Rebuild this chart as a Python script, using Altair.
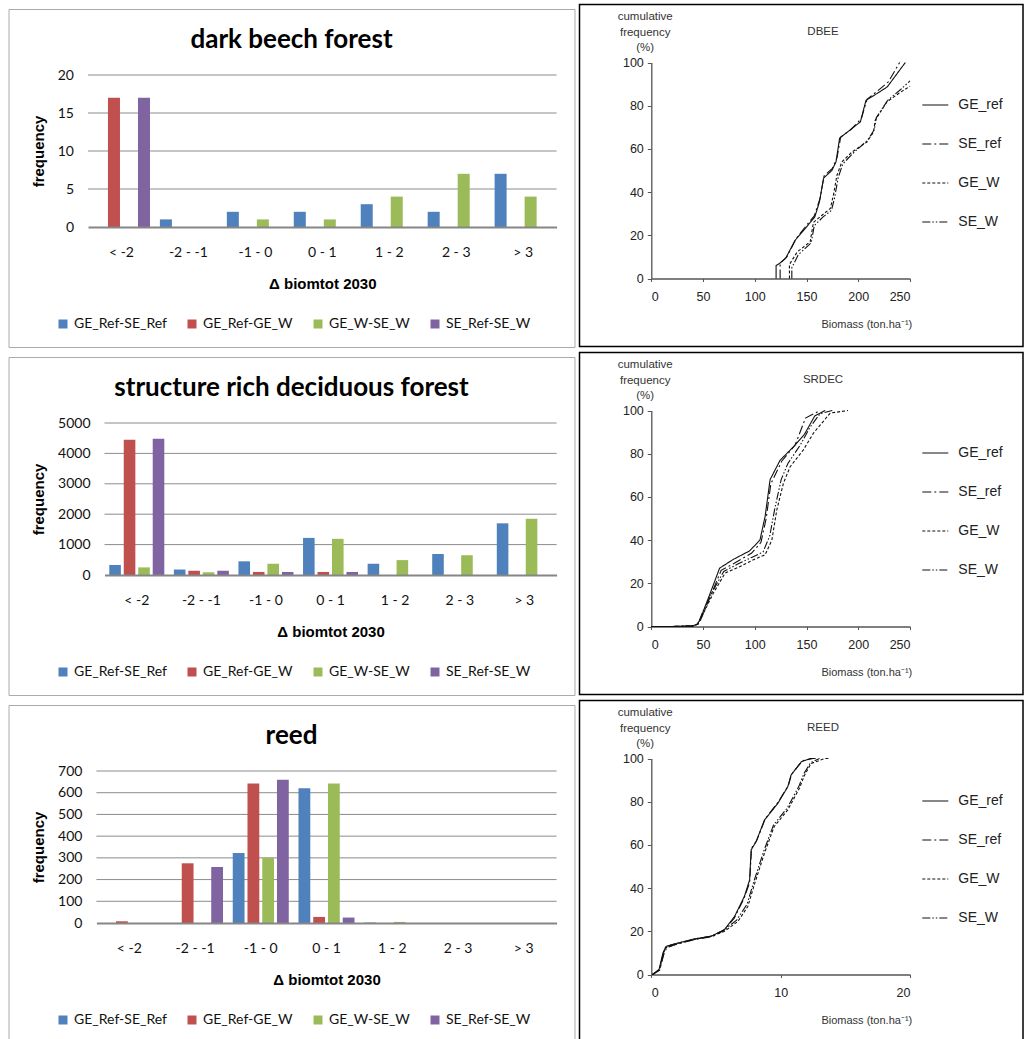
import altair as alt
import pandas as pd

# Classes of the change in total biomass by 2030
BINS = ["< -2", "-2 - -1", "-1 - 0", "0 - 1", "1 - 2", "2 - 3", "> 3"]
DIFFS = ["GE_Ref-SE_Ref", "GE_Ref-GE_W", "GE_W-SE_W", "SE_Ref-SE_W"]
DIFF_COLORS = ["#4F81BD", "#C0504D", "#9BBB59", "#8064A2"]

# Frequencies per class, one list per difference
dbee_geref_seref = [0, 1, 2, 2, 3, 2, 7]
dbee_geref_gew = [17, 0, 0, 0, 0, 0, 0]
dbee_gew_sew = [0, 0, 1, 1, 4, 7, 4]
dbee_seref_sew = [17, 0, 0, 0, 0, 0, 0]

srdec_geref_seref = [330, 180, 450, 1220, 370, 690, 1700]
srdec_geref_gew = [4450, 140, 100, 100, 0, 0, 0]
srdec_gew_sew = [250, 90, 370, 1190, 490, 650, 1850]
srdec_seref_sew = [4480, 140, 100, 100, 0, 0, 0]

reed_geref_seref = [0, 0, 322, 620, 2, 0, 0]
reed_geref_gew = [8, 275, 642, 28, 0, 0, 0]
reed_gew_sew = [0, 0, 300, 642, 5, 0, 0]
reed_seref_sew = [0, 258, 660, 25, 0, 0, 0]

# Cumulative frequency curves (biomass, %) per run
RUNS = ["GE_ref", "SE_ref", "GE_W", "SE_W"]
RUN_DASHES = [[1, 0], [9, 3, 2, 3], [3, 2], [8, 2, 1.5, 2, 1.5, 2]]

dbee_ge_ref = [(120.6, 0), (120.6, 6), (124, 7), (130, 9.5), (139, 17.7), (148.5, 23),
               (158, 28.5), (162.5, 35.5), (166.5, 46.5), (174.5, 50), (178.5, 54),
               (182, 65), (192, 68.7), (202, 72.5), (207.5, 82.5), (218, 85.6),
               (228, 88.7), (245.5, 100)]
dbee_se_ref = [(124.5, 0), (124.5, 7), (131, 10), (140, 18.5), (149, 24), (157.5, 29),
               (163, 37), (167, 47.5), (175, 51), (179.5, 56), (183, 65.5), (193, 69),
               (203, 74), (208.5, 83), (219, 87), (229, 91), (240, 100)]
dbee_ge_w = [(133.5, 0), (133.5, 6.5), (141, 12.3), (153.5, 17), (156.7, 26), (165, 29.3),
             (173, 32.4), (176, 38.6), (179.4, 47.8), (184.2, 54), (194, 58.6),
             (208.4, 63.2), (214.8, 67.9), (216.4, 73.3), (227.7, 81.8), (240, 86),
             (250, 89)]
dbee_se_w = [(135.8, 0), (135.8, 5), (142, 11), (154.5, 16.5), (157.5, 24.5), (166, 28.5),
             (174, 31.5), (177, 37), (180.5, 46.5), (185, 53), (195, 58), (209, 64),
             (215.5, 69), (217.5, 74.5), (228.5, 82.5), (241, 87.5), (250, 91.5)]

srdec_ge_ref = [(0, 0), (20, 0), (40, 0.3), (44, 1), (47, 3), (57, 15.5), (66, 27),
                (79, 31), (95, 35), (105, 40), (110, 51), (114.8, 68), (124.5, 77),
                (137, 83), (148, 89), (158, 97.5), (168, 100)]
srdec_se_ref = [(0, 0), (20, 0), (40, 0.3), (45, 1), (48, 3.5), (58, 15), (67.5, 26),
                (81, 29.5), (97, 34), (106, 39), (111, 50), (115.5, 66), (126, 76.5),
                (139, 84), (149, 96.5), (163, 100)]
srdec_ge_w = [(0, 0), (20, 0), (40, 0.3), (45, 1), (50.3, 6), (60, 15.5), (71.3, 24.7),
              (85.8, 27.8), (98.7, 30.9), (110, 33.2), (116.5, 40), (121.3, 54),
              (127.7, 66.4), (134.2, 74), (147, 81.8), (156.7, 89.5), (172.9, 98.8),
              (190, 100)]
srdec_se_w = [(0, 0), (20, 0), (40, 0.3), (45, 1), (49.5, 6.5), (59, 16), (70, 25.5),
              (84, 29), (97, 32), (108, 34.5), (114.5, 42), (119.5, 55), (125.5, 68),
              (132, 75.5), (144, 84), (153, 92), (163, 98.5), (175, 100)]

reed_ge_ref = [(0.1, 0), (0.6, 2.3), (0.9, 10), (1.15, 13), (2.06, 14.6), (3.35, 16.5),
               (4.63, 17.7), (5.66, 20.8), (6.44, 26.9), (7.2, 36.2), (7.6, 43.8),
               (7.72, 57.7), (8.1, 61.5), (8.75, 71.5), (9.78, 79.2), (10.55, 86.9),
               (10.8, 92.3), (11.6, 98.5), (12.3, 100), (12.7, 100)]
reed_se_ref = [(0.1, 0), (0.65, 2), (0.95, 9), (1.2, 12.5), (2.1, 14.3), (3.4, 16.2),
               (4.7, 17.5), (5.6, 20.3), (6.4, 26), (7.15, 35), (7.6, 42.5), (7.75, 58.5),
               (8.15, 62), (8.8, 72), (9.8, 79.8), (10.6, 87.5), (10.85, 92.8), (11.7, 99),
               (12.5, 100)]
reed_ge_w = [(0.1, 0), (0.6, 2), (0.95, 10), (1.08, 12.3), (2.1, 14.3), (3.4, 16.3),
             (4.63, 17.7), (5.66, 20), (6.7, 24.6), (7.46, 31.5), (8, 42.3), (8.75, 56.2),
             (9.5, 68.5), (10.55, 76.2), (11.45, 86.2), (11.85, 92.3), (12.35, 97.7),
             (13.4, 100), (13.8, 100)]
reed_se_w = [(0.1, 0), (0.65, 2.5), (1.0, 11), (1.15, 13), (2.05, 14.5), (3.35, 16.4),
             (4.7, 17.9), (5.6, 20.5), (6.6, 25.2), (7.4, 32.5), (7.95, 43.5), (8.7, 57.2),
             (9.45, 69.2), (10.5, 77), (11.4, 87), (11.8, 93), (12.3, 98), (13.0, 100)]

# Cell geometry (pixels inside each cell)
LEFT_W, RIGHT_W, ROW_H = 578, 446, 348
BAR_RIGHT, BAR_Y0, BAR_YTOP = 556.6, 227, 75
CDF_X0, CDF_X1, CDF_Y0, CDF_YTOP = 73.3, 332, 278.5, 62.5

CALIBRI_LIKE = "Lato"
ARIAL_LIKE = "Liberation Sans"
GRID = "#8C8C8C"


def bar_panel(title, series, y_max, y_step, plot_left):
    rows = [
        {"bin": b, "diff": d, "freq": v}
        for d, vals in zip(DIFFS, series)
        for b, v in zip(BINS, vals)
    ]
    ticks = list(range(0, y_max + 1, y_step))
    y_scale = alt.Scale(domain=[0, y_max], range=[BAR_Y0, BAR_YTOP], nice=False)
    y_axis = alt.Axis(
        title="frequency", values=ticks, format="d", offset=-plot_left,
        domain=False, ticks=False, tickSize=0, grid=False,
        labelFont=CALIBRI_LIKE, labelFontSize=14, labelColor="#111",
        labelPadding=14.5,
        titleFont=ARIAL_LIKE, titleFontSize=15, titleFontWeight="bold",
        titleColor="#000", titleAngle=270, titleAlign="center",
        titleBaseline="middle", titleX=38.5 - plot_left, titleY=151,
    )

    frame = alt.Chart(pd.DataFrame({"t": [title]})).mark_rect(
        filled=False, stroke="#ABABAB", strokeWidth=1
    ).encode(x=alt.value(9), x2=alt.value(575), y=alt.value(9.5), y2=alt.value(347.5))

    grid = alt.Chart(pd.DataFrame({"freq": ticks[1:]})).mark_rule(
        color=GRID, strokeWidth=1
    ).encode(
        y=alt.Y("freq:Q", scale=y_scale, axis=y_axis),
        x=alt.value(plot_left),
        x2=alt.value(BAR_RIGHT),
    )

    bars = alt.Chart(pd.DataFrame(rows)).mark_bar().encode(
        x=alt.X(
            "bin:N",
            sort=BINS,
            scale=alt.Scale(domain=BINS, range=[plot_left, BAR_RIGHT],
                            paddingInner=0, paddingOuter=0),
            axis=alt.Axis(
                title="Δ biomtot 2030", offset=BAR_Y0 - ROW_H, labelAngle=0,
                ticks=False, tickSize=0, grid=False,
                domainColor="#868686", domainWidth=2,
                labelFont=CALIBRI_LIKE, labelFontSize=14, labelColor="#111",
                labelBaseline="middle", labelPadding=25,
                titleFont=ARIAL_LIKE, titleFontSize=15, titleFontWeight="bold",
                titleColor="#000", titleY=56, titleBaseline="middle", zindex=1,
            ),
        ),
        xOffset=alt.XOffset(
            "diff:N", sort=DIFFS,
            scale=alt.Scale(domain=DIFFS, paddingInner=0.2, paddingOuter=0.33),
        ),
        y=alt.Y("freq:Q", scale=y_scale, axis=y_axis),
        color=alt.Color(
            "diff:N",
            scale=alt.Scale(domain=DIFFS, range=DIFF_COLORS),
            legend=alt.Legend(
                title=None, orient="none", legendX=56, legendY=317,
                direction="horizontal", symbolType="square", symbolSize=81,
                symbolStrokeWidth=0, labelFont=CALIBRI_LIKE, labelFontSize=14,
                labelColor="#111", labelOffset=4, columnPadding=18, padding=0,
            ),
        ),
    )

    heading = alt.Chart(pd.DataFrame({"t": [title]})).mark_text(
        font=CALIBRI_LIKE, fontSize=26, fontWeight="bold", color="#000",
        align="center", baseline="middle",
    ).encode(text="t:N", x=alt.value(291.5), y=alt.value(39.5))

    return alt.layer(frame, grid, bars, heading).properties(width=LEFT_W, height=ROW_H)


def cdf_panel(code, curves, x_max, x_step):
    rows = [
        {"run": run, "i": i, "biomass": bx, "cum": cy}
        for run, pts in zip(RUNS, curves)
        for i, (bx, cy) in enumerate(pts)
    ]

    frame = alt.Chart(pd.DataFrame({"t": [code]})).mark_rect(
        filled=False, stroke="#000", strokeWidth=1.5
    ).encode(x=alt.value(1.5), x2=alt.value(445), y=alt.value(4.5), y2=alt.value(346.5))

    label = alt.Chart(pd.DataFrame({"t": [code]})).mark_text(
        font=ARIAL_LIKE, fontSize=11.5, color="#333", align="center", baseline="middle",
    ).encode(text="t:N", x=alt.value(245), y=alt.value(32.3))

    lines = alt.Chart(pd.DataFrame(rows)).mark_line(color="#111", strokeWidth=1.1).encode(
        x=alt.X(
            "biomass:Q",
            scale=alt.Scale(domain=[0, x_max], range=[CDF_X0, CDF_X1], nice=False, zero=False),
            axis=alt.Axis(
                values=list(range(0, x_max + 1, x_step)), format="d",
                offset=CDF_Y0 - ROW_H, grid=False,
                domainColor="#555", domainWidth=1.3, tickColor="#555", tickSize=3,
                labelFont=ARIAL_LIKE, labelFontSize=12.5, labelColor="#222",
                labelBaseline="middle", labelPadding=15,
                title="Biomass (ton.ha⁻¹)", titleFont=ARIAL_LIKE, titleFontSize=11,
                titleFontWeight="normal", titleColor="#333", titleX=288.3, titleY=45.5,
                titleAlign="center", titleBaseline="middle",
            ),
        ),
        y=alt.Y(
            "cum:Q",
            scale=alt.Scale(domain=[0, 100], range=[CDF_Y0, CDF_YTOP], nice=False),
            axis=alt.Axis(
                values=[0, 20, 40, 60, 80, 100], format="d", offset=-CDF_X0, grid=False,
                domainColor="#555", domainWidth=1.3, tickColor="#555", tickSize=4,
                labelFont=ARIAL_LIKE, labelFontSize=12.5, labelColor="#222",
                labelPadding=4,
                title=["cumulative", "frequency", "(%)"], titleAngle=0,
                titleFont=ARIAL_LIKE, titleFontSize=11.5, titleFontWeight="normal",
                titleColor="#333", titleLineHeight=15.5, titleX=66.7 - CDF_X0,
                titleY=10.5, titleAlign="center", titleBaseline="top",
            ),
        ),
        strokeDash=alt.StrokeDash(
            "run:N",
            scale=alt.Scale(domain=RUNS, range=RUN_DASHES),
            legend=alt.Legend(
                title=None, orient="none", legendX=343.3, legendY=91,
                direction="vertical", symbolType="stroke", symbolSize=676,
                symbolStrokeColor="#111", symbolStrokeWidth=1.2,
                labelFont=ARIAL_LIKE, labelFontSize=14, labelColor="#222",
                labelOffset=9, rowPadding=18, padding=0,
            ),
        ),
        order="i:Q",
    )

    return alt.layer(frame, label, lines).properties(width=RIGHT_W, height=ROW_H)


def independent(chart):
    return chart.resolve_scale(
        x="independent", y="independent", xOffset="independent",
        color="independent", strokeDash="independent",
    ).resolve_legend(color="independent", strokeDash="independent")


row1 = independent(alt.hconcat(
    bar_panel("dark beech forest",
              [dbee_geref_seref, dbee_geref_gew, dbee_gew_sew, dbee_seref_sew], 20, 5, 88),
    cdf_panel("DBEE", [dbee_ge_ref, dbee_se_ref, dbee_ge_w, dbee_se_w], 250, 50),
    spacing=0,
))
row2 = independent(alt.hconcat(
    bar_panel("structure rich deciduous forest",
              [srdec_geref_seref, srdec_geref_gew, srdec_gew_sew, srdec_seref_sew],
              5000, 1000, 104.5),
    cdf_panel("SRDEC", [srdec_ge_ref, srdec_se_ref, srdec_ge_w, srdec_se_w], 250, 50),
    spacing=0,
))
row3 = independent(alt.hconcat(
    bar_panel("reed",
              [reed_geref_seref, reed_geref_gew, reed_gew_sew, reed_seref_sew], 700, 100, 96.4),
    cdf_panel("REED", [reed_ge_ref, reed_se_ref, reed_ge_w, reed_se_w], 20, 10),
    spacing=0,
))

chart = independent(alt.vconcat(row1, row2, row3, spacing=0)).properties(
    padding=0, background="white"
).configure_view(strokeWidth=0)

chart.save("out.html", embed_options={"renderer": "svg", "actions": False})
